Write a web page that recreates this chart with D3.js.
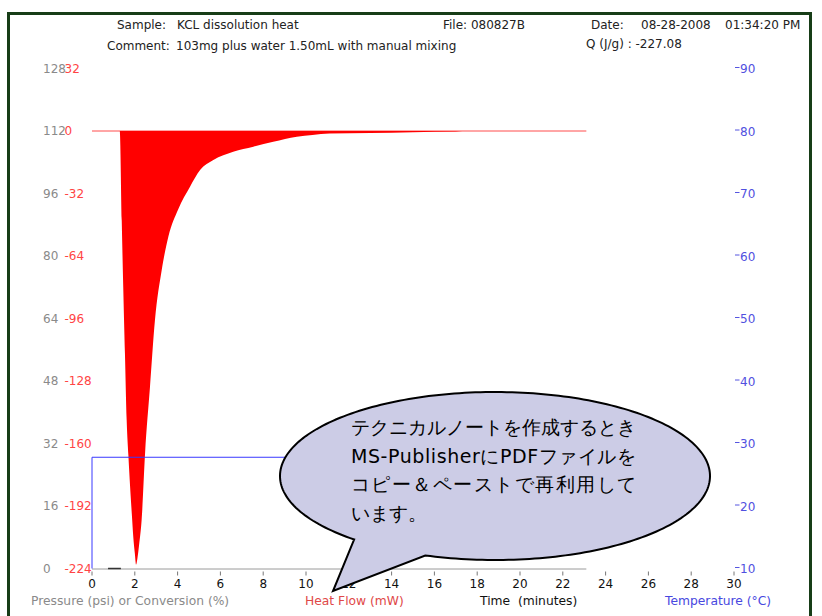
<!DOCTYPE html>
<html>
<head>
<meta charset="utf-8">
<script src="https://cdn.jsdelivr.net/npm/d3@7"></script>
<style>
  html, body { margin: 0; padding: 0; background: #fff; }
  svg { display: block; }
  text { font-family: "DejaVu Sans", Verdana, sans-serif; }
</style>
</head>
<body>
<svg id="chart" width="822" height="616"></svg>
<script>
// Run header
const headerLine1 = [
  { text: "Sample:", x: 117 },
  { text: "KCL dissolution heat", x: 177 },
  { text: "File: 080827B", x: 443 },
  { text: "Date:", x: 591 },
  { text: "08-28-2008", x: 641 },
  { text: "01:34:20 PM", x: 725 }
];
const headerLine2 = [
  { text: "Comment:", x: 107 },
  { text: "103mg plus water 1.50mL with manual mixing", x: 176 },
  { text: "Q (J/g) : -227.08", x: 586 }
];

// Axis ticks
const timeTicks = d3.range(0, 31, 2);
const pressureTicks = [0, 16, 32, 48, 64, 80, 96, 112, 128];
const heatFlowTicks = [-224, -192, -160, -128, -96, -64, -32, 0, 32];
const temperatureTicks = [10, 20, 30, 40, 50, 60, 70, 80, 90];

// Heat flow (mW) vs time (minutes)
const hfTime = [0, 1.30, 1.31, 1.39, 1.46, 1.54, 1.62, 1.70, 1.78, 1.86, 1.93, 2.00, 2.06,
  2.12, 2.20, 2.32, 2.48, 2.71, 2.94, 3.26, 3.57, 4.03, 4.58, 5.05, 5.67, 6.60, 7.54,
  8.47, 9.57, 10.3, 11.1, 13.0, 15.0, 17.0, 17.3, 23.1];
const heatFlow = [0, 0, -2, -46, -80, -114, -148, -166, -182, -196, -208, -216, -222,
  -219, -212, -199, -165, -131, -97, -71, -54, -40, -28.5, -20, -14.8, -10.6, -8.0,
  -5.5, -2.9, -2.0, -1.3, -1.0, -0.6, -0.3, 0, 0];

// Temperature (°C) vs time
const tempTime = [0, 0, 23.1];
const temperature = [10, 27.8, 27.8];

// Pressure (psi) vs time
const pressureTime = [0.75, 1.35];
const pressure = [0, 0];

// Callout text
const noteLines = [
  "テクニカルノートを作成するとき",
  "MS-PublisherにPDFファイルを",
  "コピー＆ペーストで再利用して",
  "います。"
];

const svg = d3.select("#chart");

const x = d3.scaleLinear().domain([0, 30]).range([92, 734]);
const yP = d3.scaleLinear().domain([0, 128]).range([568.5, 68.5]);
const yH = d3.scaleLinear().domain([-224, 32]).range([568.5, 68.5]);
const yT = d3.scaleLinear().domain([10, 90]).range([568.5, 68.5]);

// frame
svg.append("rect")
  .attr("x", 8.5).attr("y", 13.5).attr("width", 802).attr("height", 620)
  .attr("fill", "none").attr("stroke", "#173d17").attr("stroke-width", 3);

// header
const hdr = svg.append("g").attr("font-size", 12).attr("fill", "#222");
hdr.selectAll("text.l1").data(headerLine1).join("text")
  .attr("x", d => d.x).attr("y", 25).attr("dy", "0.35em").text(d => d.text);
hdr.selectAll("text.l2").data(headerLine2).join("text")
  .attr("x", d => d.x).attr("y", d => d.x > 500 ? 44 : 46).attr("dy", "0.35em").text(d => d.text);

// left axis labels
svg.append("g").selectAll("text").data(pressureTicks).join("text")
  .attr("x", 43).attr("y", d => yP(d)).attr("dy", "0.35em")
  .attr("font-size", 12).attr("fill", "#8a8a8a").text(d => d);
svg.append("g").selectAll("text").data(heatFlowTicks).join("text")
  .attr("x", 64.5).attr("y", d => yH(d)).attr("dy", "0.35em")
  .attr("font-size", 12).attr("fill", "#ff4444").text(d => d);

// right axis ticks and labels
const rg = svg.append("g");
rg.selectAll("line").data(temperatureTicks).join("line")
  .attr("x1", 735).attr("x2", 739.5)
  .attr("y1", d => yT(d) - 1).attr("y2", d => yT(d) - 1)
  .attr("stroke", "#5555e0").attr("stroke-width", 1);
rg.selectAll("text").data(temperatureTicks).join("text")
  .attr("x", 740).attr("y", d => yT(d) + 0.5).attr("dy", "0.35em")
  .attr("font-size", 12).attr("fill", "#5050e0").text(d => d);

// time axis
svg.append("line")
  .attr("x1", x(0)).attr("x2", x(23.1)).attr("y1", 569).attr("y2", 569)
  .attr("stroke", "#9a9a9a").attr("stroke-width", 1);
const tg = svg.append("g");
tg.selectAll("line").data(timeTicks).join("line")
  .attr("x1", d => x(d)).attr("x2", d => x(d)).attr("y1", 571.5).attr("y2", 575.5)
  .attr("stroke", "#777").attr("stroke-width", 1);
tg.selectAll("text").data(timeTicks).join("text")
  .attr("x", d => x(d)).attr("y", 583.5).attr("dy", "0.35em").attr("text-anchor", "middle")
  .attr("font-size", 12).attr("fill", "#111").text(d => d);

// axis titles
const titles = [
  { text: "Pressure (psi) or Conversion (%)", x: 31, fill: "#8a8a8a" },
  { text: "Heat Flow (mW)", x: 305, fill: "#e04848" },
  { text: "Time\u00a0 (minutes)", x: 480, fill: "#111" },
  { text: "Temperature (°C)", x: 665, fill: "#4848e0" }
];
svg.append("g").selectAll("text").data(titles).join("text")
  .attr("x", d => d.x).attr("y", 600.5).attr("dy", "0.35em")
  .attr("font-size", 12.3).attr("fill", d => d.fill).text(d => d.text);

// heat flow trace
const hf = hfTime.map((t, i) => ({ t, v: heatFlow[i] }));
svg.append("line")
  .attr("x1", x(0)).attr("x2", x(23.1)).attr("y1", yH(0)).attr("y2", yH(0))
  .attr("stroke", "#ff4d4d").attr("stroke-width", 1);
svg.append("path").datum(hf)
  .attr("d", d3.area().x(d => x(d.t)).y0(yH(0)).y1(d => yH(d.v)).curve(d3.curveMonotoneX))
  .attr("fill", "#ff0000");

// temperature trace
const tp = tempTime.map((t, i) => ({ t, v: temperature[i] }));
svg.append("path").datum(tp)
  .attr("d", d3.line().x(d => x(d.t)).y(d => yT(d.v)))
  .attr("fill", "none").attr("stroke", "#3838ff").attr("stroke-width", 1);

// pressure trace
const pr = pressureTime.map((t, i) => ({ t, v: pressure[i] }));
svg.append("path").datum(pr)
  .attr("d", d3.line().x(d => x(d.t)).y(d => yP(d.v)))
  .attr("fill", "none").attr("stroke", "#333").attr("stroke-width", 1.5);

// speech-bubble note
const cx = 495, cy = 476, rx = 215, ry = 84;
const jointA = [353, 540], jointB = [423, 558], tip = [333, 591];
const ang = p => Math.atan2((p[1] - cy) / ry, (p[0] - cx) / rx);
let a0 = ang(jointA), a1 = ang(jointB);
if (a1 < a0) a1 += 2 * Math.PI;
const pts = d3.range(0, 241).map(i => {
  const a = a0 + (a1 - a0) * i / 240;
  return [cx + rx * Math.cos(a), cy + ry * Math.sin(a)];
});
pts.push(tip);
svg.append("path")
  .attr("d", d3.line()(pts) + "Z")
  .attr("fill", "#ccccE6").attr("stroke", "#000").attr("stroke-width", 2)
  .attr("stroke-linejoin", "miter");

const note = svg.append("g")
  .attr("font-size", 19).attr("fill", "#000")
  .style("font-family", "'Noto Sans CJK JP', sans-serif");
note.selectAll("text").data(noteLines).join("text")
  .attr("x", 351).attr("y", (d, i) => 427 + i * 28.5).attr("dy", "0.38em")
  .each(function (d, i) {
    if (i < noteLines.length - 1) {
      d3.select(this).attr("textLength", 285).attr("lengthAdjust", "spacing");
    }
  })
  .text(d => d);
</script>
</body>
</html>
